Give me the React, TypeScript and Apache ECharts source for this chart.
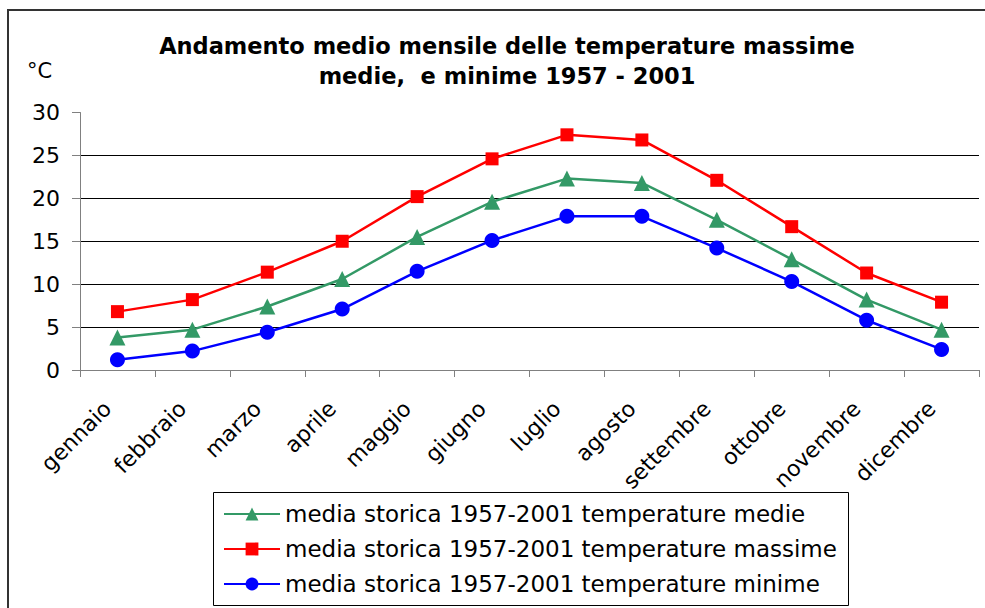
import React, { useEffect, useRef } from "react";
import * as echarts from "echarts";

const months = ["gennaio", "febbraio", "marzo", "aprile", "maggio", "giugno", "luglio", "agosto", "settembre", "ottobre", "novembre", "dicembre"];
const medie = [3.8, 4.7, 7.4, 10.6, 15.5, 19.6, 22.3, 21.8, 17.5, 12.9, 8.2, 4.7];
const massime = [6.8, 8.2, 11.4, 15.0, 20.2, 24.6, 27.4, 26.8, 22.1, 16.7, 11.3, 7.9];
const minime = [1.2, 2.2, 4.4, 7.1, 11.5, 15.1, 17.9, 17.9, 14.2, 10.3, 5.8, 2.4];
const seriesNames = [
  "media storica 1957-2001 temperature medie",
  "media storica 1957-2001 temperature massime",
  "media storica 1957-2001 temperature minime",
];

const FONT = "'DejaVu Sans', Verdana, sans-serif";

export default function App() {
  const ref = useRef<HTMLDivElement>(null);
  useEffect(() => {
    document.body.style.margin = "0";
    const chart = echarts.init(ref.current!, null, { renderer: "svg" });
    chart.setOption({
      animation: false,
      backgroundColor: "#ffffff",
      title: {
        text: "Andamento medio mensile delle temperature massime\nmedie,  e minime 1957 - 2001",
        left: 502,
        top: 26,
        textAlign: "center",
        textStyle: { fontFamily: FONT, fontWeight: "bold", fontSize: 22.5, lineHeight: 30, color: "#000" },
      },
      graphic: [
        { type: "rect", shape: { x: 8, y: 10, width: 1000, height: 700 }, style: { fill: "none", stroke: "#333", lineWidth: 2 }, silent: true },
        { type: "rect", shape: { x: 213.5, y: 492.5, width: 635, height: 113 }, style: { fill: "none", stroke: "#000", lineWidth: 1 }, silent: true },
        { type: "text", x: 27, y: 60, style: { text: "°C", fontFamily: FONT, fontSize: 21, fill: "#000" } },
      ],
      grid: { left: 80, right: 6, top: 112.5, bottom: 238, containLabel: false },
      legend: {
        orient: "vertical",
        left: 213,
        top: 492,
        padding: [10, 10, 8, 10],
        itemGap: 11,
        itemWidth: 56,
        itemHeight: 16,
        borderWidth: 0,
        textStyle: { fontFamily: FONT, fontSize: 23, lineHeight: 24, color: "#000" },
        data: seriesNames,
      },
      xAxis: {
        type: "category",
        data: months,
        boundaryGap: true,
        axisLine: { lineStyle: { color: "#808080", width: 1 } },
        axisTick: { show: true, length: 7, lineStyle: { color: "#808080" } },
        axisLabel: { rotate: 45, fontFamily: FONT, fontSize: 22, color: "#000", margin: 25, padding: [0, 14, 0, 0], interval: 0 },
      },
      yAxis: {
        type: "value",
        min: 0,
        max: 30,
        interval: 5,
        axisLine: { show: true, lineStyle: { color: "#808080", width: 1 } },
        axisTick: { show: true, length: 8, lineStyle: { color: "#808080" } },
        axisLabel: { fontFamily: FONT, fontSize: 22, color: "#000", margin: 20 },
        splitLine: { show: true, lineStyle: { color: ["#000", "#000", "#000", "#000", "#000", "#000", "transparent"], width: 1 } },
      },
      series: [
        { name: seriesNames[0], type: "line", data: medie, symbol: "triangle", symbolSize: 16, itemStyle: { color: "#339966" }, lineStyle: { color: "#339966", width: 2.5 } },
        { name: seriesNames[1], type: "line", data: massime, symbol: "rect", symbolSize: 13, itemStyle: { color: "#FF0000" }, lineStyle: { color: "#FF0000", width: 2.5 } },
        { name: seriesNames[2], type: "line", data: minime, symbol: "circle", symbolSize: 15, itemStyle: { color: "#0000FF" }, lineStyle: { color: "#0000FF", width: 2.5 } },
      ],
    });
    return () => chart.dispose();
  }, []);
  return <div ref={ref} style={{ position: "fixed", left: 0, top: 0, width: 985, height: 608 }} />;
}
